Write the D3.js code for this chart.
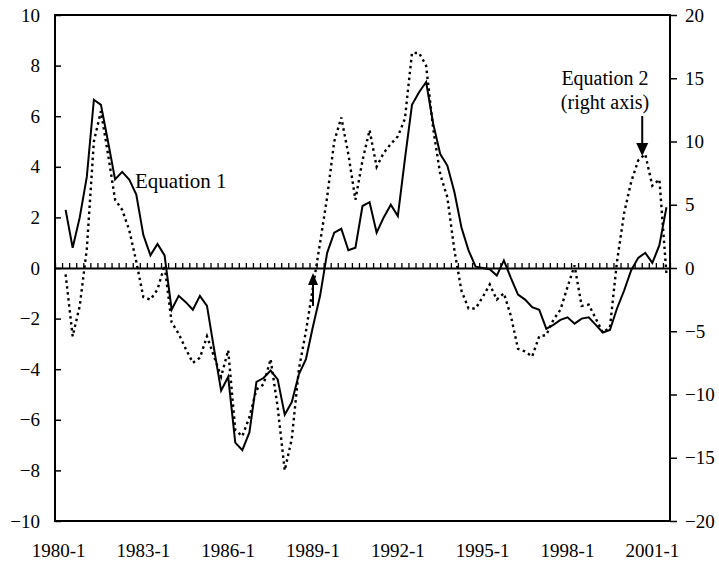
<!DOCTYPE html>
<html><head><meta charset="utf-8">
<script src="https://cdn.jsdelivr.net/npm/d3@7"></script>
<style>
body{margin:0;background:#fff}
svg{display:block}
text{font-family:"Liberation Serif","Times New Roman",serif;fill:#000}
</style>
</head><body>
<svg id="c" width="719" height="568"></svg>
<script>
// ---------- data ----------
const quarters = [
"1980-1","1980-2","1980-3","1980-4","1981-1","1981-2","1981-3","1981-4",
"1982-1","1982-2","1982-3","1982-4","1983-1","1983-2","1983-3","1983-4",
"1984-1","1984-2","1984-3","1984-4","1985-1","1985-2","1985-3","1985-4",
"1986-1","1986-2","1986-3","1986-4","1987-1","1987-2","1987-3","1987-4",
"1988-1","1988-2","1988-3","1988-4","1989-1","1989-2","1989-3","1989-4",
"1990-1","1990-2","1990-3","1990-4","1991-1","1991-2","1991-3","1991-4",
"1992-1","1992-2","1992-3","1992-4","1993-1","1993-2","1993-3","1993-4",
"1994-1","1994-2","1994-3","1994-4","1995-1","1995-2","1995-3","1995-4",
"1996-1","1996-2","1996-3","1996-4","1997-1","1997-2","1997-3","1997-4",
"1998-1","1998-2","1998-3","1998-4","1999-1","1999-2","1999-3","1999-4",
"2000-1","2000-2","2000-3","2000-4","2001-1","2001-2","2001-3"];
const xTickLabels = ["1980-1","1983-1","1986-1","1989-1","1992-1","1995-1","1998-1","2001-1"];
const leftTicks = [-10,-8,-6,-4,-2,0,2,4,6,8,10];
const rightTicks = [-20,-15,-10,-5,0,5,10,15,20];

// Equation 1 (left axis)
const eq1 = [null,2.3,0.8,2.0,3.6,6.65,6.45,5.0,
3.5,3.8,3.5,2.9,1.3,0.5,0.95,0.5,
-1.65,-1.1,-1.35,-1.65,-1.1,-1.5,-3.2,-4.85,
-4.3,-6.9,-7.2,-6.5,-4.5,-4.35,-4.05,-4.4,
-5.8,-5.3,-4.2,-3.6,-2.3,-1.1,0.6,1.4,
1.55,0.7,0.8,2.45,2.6,1.4,2.0,2.5,
2.05,4.3,6.45,6.95,7.35,5.7,4.5,4.05,
3.0,1.6,0.7,0.05,0.0,-0.05,-0.3,0.3,
-0.4,-1.05,-1.25,-1.55,-1.65,-2.4,-2.25,-2.05,
-1.95,-2.2,-2.0,-1.95,-2.25,-2.55,-2.45,-1.6,
-0.9,-0.1,0.4,0.6,0.2,0.9,2.4];

// Equation 2 (right axis)
const eq2 = [null,-0.5,-5.4,-3.0,1.5,10.0,12.4,9.0,
5.4,4.6,3.0,0.5,-2.3,-2.5,-1.7,0.2,
-4.3,-5.2,-6.4,-7.5,-7.1,-5.4,-7.0,-8.6,
-6.5,-12.8,-13.3,-11.8,-9.6,-9.2,-7.2,-11.0,
-16.0,-13.5,-8.0,-5.0,-1.5,2.0,5.6,10.0,
11.9,9.0,5.4,8.5,10.9,8.0,9.1,9.8,
10.4,11.8,17.0,17.0,16.0,11.0,7.4,5.6,
1.4,-1.8,-3.2,-3.2,-2.3,-1.3,-2.5,-2.0,
-3.8,-6.4,-6.6,-7.0,-5.4,-5.3,-4.1,-3.3,
-1.5,0.2,-3.0,-2.9,-4.0,-5.1,-4.7,0.5,
4.3,6.8,8.5,9.0,6.5,7.0,-0.5];

// ---------- layout ----------
const L = 55, R = 670, T = 15, B = 521;
const svg = d3.select("#c");

const x = d3.scaleBand().domain(quarters).range([L, R]).padding(0);
const xi = d3.scaleLinear().domain([0, quarters.length]).range([L, R]);
const yL = d3.scaleLinear().domain([-10, 10]).range([B, T]);
const yR = d3.scaleLinear().domain([-20, 20]).range([B, T]);
const cx = q => x(q) + x.bandwidth() / 2;

// left axis (ticks inside)
const gL = svg.append("g").attr("transform", `translate(${L},0)`)
  .call(d3.axisLeft(yL).tickValues(leftTicks).tickSizeInner(-6).tickSizeOuter(0).tickPadding(15).tickFormat(d3.format("d")));
gL.attr("font-family", null);
gL.select(".domain").remove();
gL.selectAll("line").attr("stroke", "#000").attr("stroke-width", 1.5);
gL.selectAll("text").attr("font-size", 19);

// right axis (ticks outside)
const gR = svg.append("g").attr("transform", `translate(${R},0)`)
  .call(d3.axisRight(yR).tickValues(rightTicks).tickSizeInner(7).tickSizeOuter(0).tickPadding(8).tickFormat(d3.format("d")));
gR.attr("font-family", null);
gR.select(".domain").remove();
gR.selectAll("line").attr("stroke", "#000").attr("stroke-width", 1.5);
gR.selectAll("text").attr("font-size", 19);

// bottom category labels
const gB = svg.append("g").attr("transform", `translate(0,${B})`)
  .call(d3.axisBottom(x).tickValues(xTickLabels).tickSize(0).tickPadding(23));
gB.attr("font-family", null);
gB.select(".domain").remove();
gB.selectAll("text").attr("font-size", 19);

// frame
svg.append("rect").attr("x", L).attr("y", T).attr("width", R - L).attr("height", B - T)
  .attr("fill", "none").attr("stroke", "#000").attr("stroke-width", 2);

// zero line with category ticks
const gZ = svg.append("g").attr("transform", `translate(0,${yL(0)})`)
  .call(d3.axisTop(xi).tickValues(d3.range(quarters.length + 1)).tickSizeInner(5).tickSizeOuter(0).tickFormat(""));
gZ.select(".domain").attr("stroke", "#000").attr("stroke-width", 2);
gZ.selectAll("line").attr("stroke", "#000").attr("stroke-width", 1.3);

// lines
const line1 = d3.line().defined(d => d != null).x((d, i) => cx(quarters[i])).y(d => yL(d));
const line2 = d3.line().defined(d => d != null).x((d, i) => cx(quarters[i])).y(d => yR(d));

svg.append("path").datum(eq2).attr("d", line2)
  .attr("fill", "none").attr("stroke", "#000").attr("stroke-width", 2.4)
  .attr("stroke-dasharray", "2.5,3.5");
svg.append("path").datum(eq1).attr("d", line1)
  .attr("fill", "none").attr("stroke", "#000").attr("stroke-width", 2)
  .attr("stroke-linejoin", "miter");

// annotations
svg.append("text").attr("x", 135).attr("y", 188).attr("font-size", 21).text("Equation 1");
svg.append("text").attr("x", 605).attr("y", 85).attr("font-size", 20).attr("text-anchor", "middle").text("Equation 2");
svg.append("text").attr("x", 605).attr("y", 109).attr("font-size", 20).attr("text-anchor", "middle").text("(right axis)");

// arrow up at 1989-1 toward zero line
const ax1 = cx("1989-1");
svg.append("line").attr("x1", ax1).attr("x2", ax1).attr("y1", 306).attr("y2", 282)
  .attr("stroke", "#000").attr("stroke-width", 2);
svg.append("path").attr("d", `M${ax1},${273}L${ax1 - 5},${285}L${ax1 + 5},${285}Z`).attr("fill", "#000");

// arrow down to Equation 2 peak
const ax2 = (cx("2000-3") + cx("2000-4")) / 2 + 0.5;
svg.append("line").attr("x1", ax2).attr("x2", ax2).attr("y1", 116).attr("y2", 146)
  .attr("stroke", "#000").attr("stroke-width", 2);
svg.append("path").attr("d", `M${ax2},${156}L${ax2 - 6},${143}L${ax2 + 6},${143}Z`).attr("fill", "#000");
</script>
</body></html>
